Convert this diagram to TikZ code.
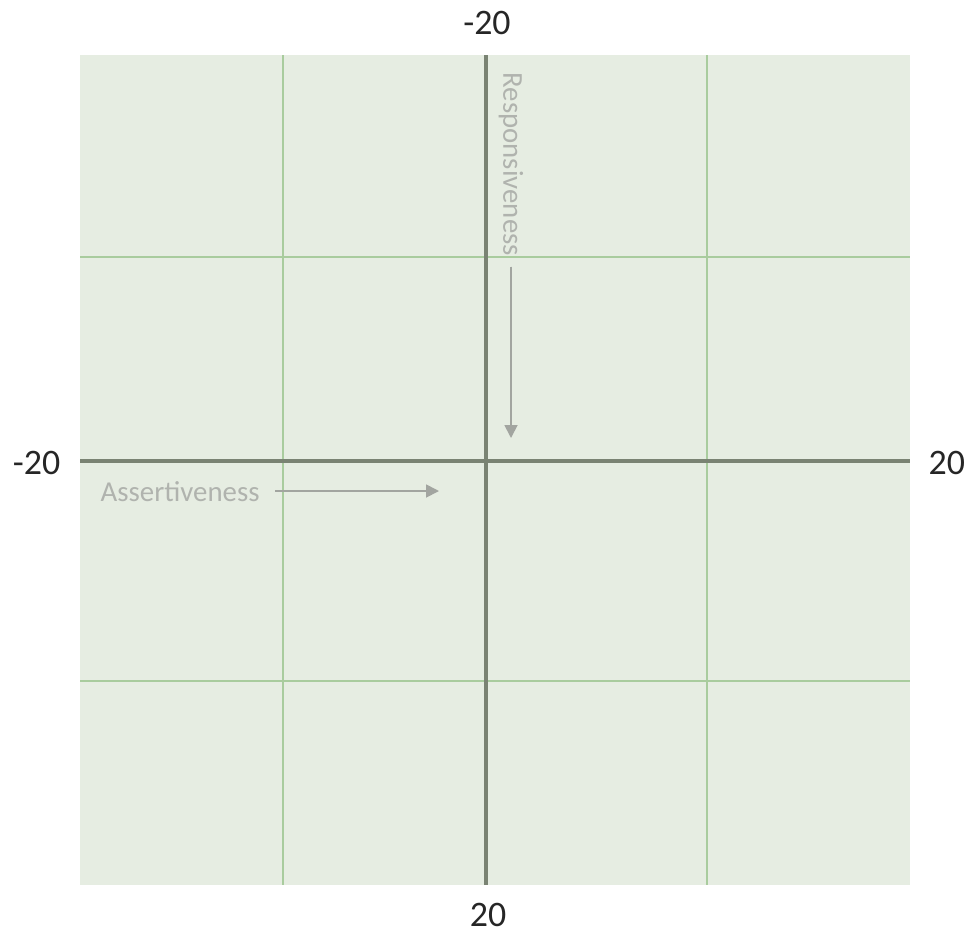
\documentclass[tikz,border=0pt]{standalone}
\usepackage{fontspec}
\setmainfont{Carlito}
\usetikzlibrary{arrows.meta,positioning,calc}
\definecolor{panelgreen}{HTML}{E6EDE2}
\definecolor{gridgreen}{HTML}{A9CC9E}
\definecolor{axisgray}{HTML}{7A8373}
\definecolor{hintgray}{HTML}{B0B3AE}
\definecolor{tipgray}{HTML}{A2A5A0}
\tikzset{grid line/.style={draw=gridgreen, line width=0.45pt}}
\tikzset{axis line/.style={draw=axisgray, line width=0.9pt}}
\tikzset{end label/.style={font=\fontsize{10.2pt}{12pt}\selectfont, text=black!85, inner sep=0pt}}
\tikzset{hint label/.style={font=\fontsize{8.2pt}{10pt}\selectfont, text=hintgray, inner sep=0pt}}
\tikzset{hint edge/.style={-{Triangle[length=1.3mm,width=1.3mm]}, draw=tipgray, fill=tipgray, line width=0.5pt}}

\begin{document}
\begin{tikzpicture}[x=0.01cm,y=-0.01cm]
		\useasboundingbox (0,0) rectangle (970,933);
		\fill[panelgreen] (80,55) rectangle (910,885);

		% quarter lines
		\draw[grid line] (283,55) -- (283,885);
		\draw[grid line] (707,55) -- (707,885);
		\draw[grid line] (80,257) -- (910,257);
		\draw[grid line] (80,681) -- (910,681);

		% axes
		\coordinate (top) at (486,55);
		\coordinate (bottom) at (486,885);
		\coordinate (left) at (80,461);
		\coordinate (right) at (910,461);
		\draw[axis line] (top) -- (bottom);
		\draw[axis line] (left) -- (right);

		\node[end label] (topVal) at (487,23) {-20};
		\node[end label] (bottomVal) at (488,915) {20};
		\node[end label, anchor=east] (leftVal) at (61,463) {-20};
		\node[end label, anchor=west] (rightVal) at (928,463) {20};

		\node[hint label, anchor=west] (assert) at (100,492) {Assertiveness};
		\coordinate (assertTip) at (439,491);
		\draw[hint edge] ($(assert.east)+(15,-1)$) -- (assertTip);

		\node[hint label, rotate=-90, anchor=west] (respond) at (511,72) {Responsiveness};
		\coordinate (respondTip) at (511,438);
		\draw[hint edge] ($(respond.east)+(0,10)$) -- (respondTip);
	\end{tikzpicture}
\end{document}
